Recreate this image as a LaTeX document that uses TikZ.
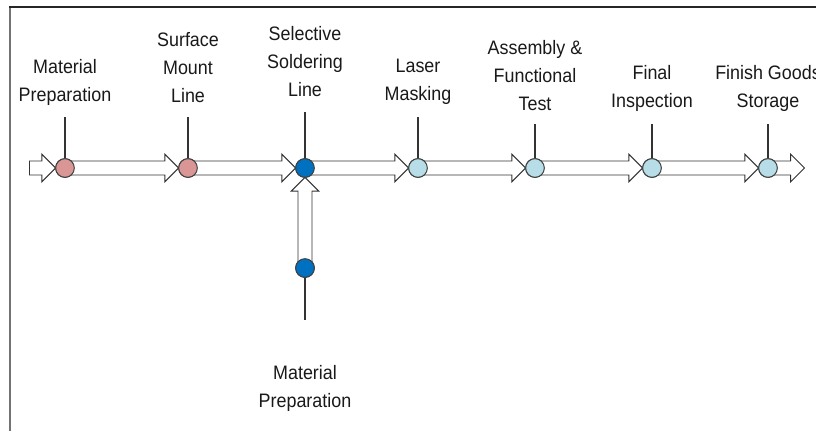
\documentclass[tikz,border=0pt]{standalone}
\usepackage{fontspec}
\setmainfont{Liberation Sans}[FakeStretch=0.92]
\usetikzlibrary{shapes.arrows,calc}

\definecolor{rosy}{HTML}{D99694}
\definecolor{deepblue}{HTML}{0070C0}
\definecolor{paleblue}{HTML}{B7DEE8}

\tikzset{
  stage/.style={circle,draw=black!75,line width=0.75pt,inner sep=0pt,minimum size=14pt},
  stem/.style={draw=black!80,line width=0.9pt},
  label/.style={align=center,font=\fontsize{14.6}{21}\selectfont,text=black!90},
  flow/.style={to path={
    let \p1=(\tikztostart), \p2=(\tikztotarget),
        \n1={atan2(\y2-\y1,\x2-\x1)}, \n2={veclen(\x2-\x1,\y2-\y1)} in
    node[single arrow,draw=black!80,fill=white,line width=0.7pt,
         inner xsep=0pt,inner ysep=4.9pt,
         single arrow head extend=5.1pt,
         minimum height=\n2,anchor=tail,rotate=\n1] at (\p1) {}}}
}

\begin{document}
\begin{tikzpicture}[x=0.75pt,y=-0.75pt]
  \useasboundingbox (0,0) rectangle (816,430);
  % frame
  \draw[black!55,line width=2.2pt] (10,431) -- (10,7);
  \draw[black!85,line width=1.4pt] (9,7) -- (817,7);

  % stations
  \node[stage,fill=rosy]      (m1) at (65,168)  {};
  \node[stage,fill=rosy]      (m2) at (188,168) {};
  \node[stage,fill=deepblue]  (m3) at (305,168) {};
  \node[stage,fill=paleblue]  (m4) at (418,168) {};
  \node[stage,fill=paleblue]  (m5) at (535,168) {};
  \node[stage,fill=paleblue]  (m6) at (652,168) {};
  \node[stage,fill=paleblue]  (m7) at (768,168) {};
  \node[stage,fill=deepblue]  (s1) at (305,268) {};
  \coordinate (in) at (29,168);
  \coordinate (out) at (804,168);

  % flow arrows
  \path (in) to[flow] (m1.west);
  \path (m1) to[flow] (m2.west);
  \path (m2) to[flow] (m3.west);
  \path (m3) to[flow] (m4.west);
  \path (m4) to[flow] (m5.west);
  \path (m5) to[flow] (m6.west);
  \path (m6) to[flow] (m7.west);
  \path (m7) to[flow] (out);
  \path (s1) to[flow] (m3.south);

  % redraw stations on top
  \foreach \n/\c in {m1/rosy,m2/rosy,m3/deepblue,m4/paleblue,m5/paleblue,m6/paleblue,m7/paleblue,s1/deepblue}
    \node[stage,fill=\c] at (\n) {};

  % stems
  \coordinate (t1) at (65,117);
  \coordinate (t2) at (188,117);
  \coordinate (t3) at (305,112);
  \coordinate (t4) at (418,117);
  \coordinate (t5) at (535,124);
  \coordinate (t6) at (652,124);
  \coordinate (t7) at (768,124);
  \coordinate (b1) at (305,320);
  \draw[stem] (m1.north) -- (t1);
  \draw[stem] (m2.north) -- (t2);
  \draw[stem] (m3.north) -- (t3);
  \draw[stem] (m4.north) -- (t4);
  \draw[stem] (m5.north) -- (t5);
  \draw[stem] (m6.north) -- (t6);
  \draw[stem] (m7.north) -- (t7);
  \draw[stem] (s1.south) -- (b1);

  % labels
  \node[label] (l1) at (65,82)   {Material\\Preparation};
  \node[label] (l2) at (188,68)  {Surface\\Mount\\Line};
  \node[label] (l3) at (305,62)  {Selective\\Soldering\\Line};
  \node[label] (l4) at (418,82)  {Laser\\Masking};
  \node[label] (l5) at (535,76)  {Assembly \&\\Functional\\Test};
  \node[label] (l6) at (652,88)  {Final\\Inspection};
  \node[label] (l7) at (768,88)  {Finish Goods\\Storage};
  \node[label] (l8) at (305,388) {Material\\Preparation};
\end{tikzpicture}
\end{document}
